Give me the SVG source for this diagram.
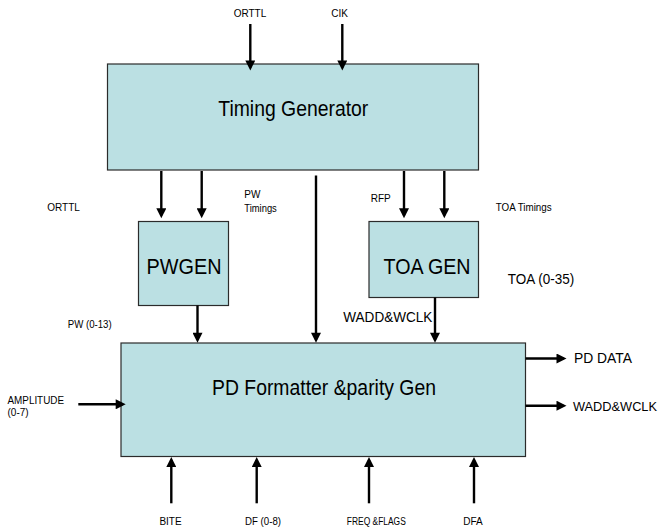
<svg xmlns="http://www.w3.org/2000/svg" width="662" height="531" viewBox="0 0 662 531">
<style>
.box{fill:#bbe0e3;stroke:#2b2b2b;stroke-width:1.2}
.big{font-family:"Liberation Sans",Arial,sans-serif;font-size:22px;fill:#000}
.mid{font-family:"Liberation Sans",Arial,sans-serif;font-size:14px;fill:#000}
.sm{font-family:"Liberation Sans",Arial,sans-serif;font-size:10px;fill:#000}
.c{text-anchor:middle}
.arr{stroke:#000;stroke-width:2.4;fill:none;marker-end:url(#ah)}
</style>
<defs>
<marker id="ah" viewBox="0 0 10 10" refX="7" refY="5" markerWidth="10.5" markerHeight="10" markerUnits="userSpaceOnUse" orient="auto">
<path d="M0,0 L10,5 L0,10 z" fill="#000"/>
</marker>
</defs>
<rect width="662" height="531" fill="#fff"/>
<g id="timing-generator">
<rect class="box" x="107.5" y="64" width="371" height="106"/>
<text class="big c" x="293.3" y="116" textLength="150" lengthAdjust="spacingAndGlyphs">Timing Generator</text>
</g>
<g id="pwgen">
<rect class="box" x="138.5" y="221.5" width="90" height="84"/>
<text class="big c" x="184" y="274" textLength="75" lengthAdjust="spacingAndGlyphs">PWGEN</text>
</g>
<g id="toa-gen">
<rect class="box" x="369" y="221.5" width="109.5" height="76"/>
<text class="big c" x="427" y="273.5" textLength="87" lengthAdjust="spacingAndGlyphs">TOA GEN</text>
</g>
<g id="pd-formatter">
<rect class="box" x="121" y="343" width="404.5" height="113.5"/>
<text class="big c" x="324" y="395" textLength="224" lengthAdjust="spacingAndGlyphs">PD Formatter &amp;parity Gen</text>
</g>
<g id="connectors">
<line class="arr" x1="250.3" y1="24" x2="250.3" y2="67.5"/>
<line class="arr" x1="342.3" y1="24" x2="342.3" y2="67.5"/>
<line class="arr" x1="161.3" y1="171" x2="161.3" y2="215.3"/>
<line class="arr" x1="201.7" y1="171" x2="201.7" y2="215.3"/>
<line class="arr" x1="316" y1="175.5" x2="316" y2="339.7"/>
<line class="arr" x1="404" y1="171" x2="404" y2="215.3"/>
<line class="arr" x1="444.3" y1="171" x2="444.3" y2="215.3"/>
<line class="arr" x1="197.5" y1="305.5" x2="197.5" y2="339.7"/>
<line class="arr" x1="435" y1="297.5" x2="435" y2="339.7"/>
<line class="arr" x1="78.3" y1="404.3" x2="122.7" y2="404.3"/>
<line class="arr" x1="171.3" y1="503.3" x2="171.3" y2="460"/>
<line class="arr" x1="256.7" y1="503.3" x2="256.7" y2="460"/>
<line class="arr" x1="369" y1="503.3" x2="369" y2="460"/>
<line class="arr" x1="474" y1="503.3" x2="474" y2="460"/>
<line class="arr" x1="525.5" y1="358.5" x2="563.5" y2="358.5"/>
<line class="arr" x1="525.5" y1="405.7" x2="563.5" y2="405.7"/>
</g>
<g id="labels">
<text class="sm c" x="250" y="17">ORTTL</text>
<text class="sm c" x="339.5" y="17">CIK</text>
<text class="sm" x="47.3" y="211">ORTTL</text>
<text class="sm" x="244.3" y="197.7">PW</text>
<text class="sm" x="244.3" y="211.7" textLength="32.5" lengthAdjust="spacingAndGlyphs">Timings</text>
<text class="sm" x="370.7" y="202.3">RFP</text>
<text class="sm" x="495.7" y="211" textLength="56" lengthAdjust="spacingAndGlyphs">TOA Timings</text>
<text class="mid" x="507.7" y="284.3" textLength="66.5" lengthAdjust="spacingAndGlyphs">TOA (0-35)</text>
<text class="sm" x="67.7" y="327.7" textLength="44" lengthAdjust="spacingAndGlyphs">PW (0-13)</text>
<text class="mid" x="343.3" y="322.3" textLength="89" lengthAdjust="spacingAndGlyphs">WADD&amp;WCLK</text>
<text class="mid" x="574" y="363" textLength="58" lengthAdjust="spacingAndGlyphs">PD DATA</text>
<text class="mid" x="573" y="411" style="font-size:13px" textLength="84" lengthAdjust="spacingAndGlyphs">WADD&amp;WCLK</text>
<text class="sm" x="7.5" y="404.3" textLength="56.5" lengthAdjust="spacingAndGlyphs">AMPLITUDE</text>
<text class="sm" x="7.5" y="416.3">(0-7)</text>
<text class="sm c" x="170.5" y="525">BITE</text>
<text class="sm c" x="263" y="525" textLength="36" lengthAdjust="spacingAndGlyphs">DF (0-8)</text>
<text class="sm c" x="376.3" y="525" textLength="59" lengthAdjust="spacingAndGlyphs">FREQ &amp;FLAGS</text>
<text class="sm c" x="473" y="525">DFA</text>
</g>
</svg>
